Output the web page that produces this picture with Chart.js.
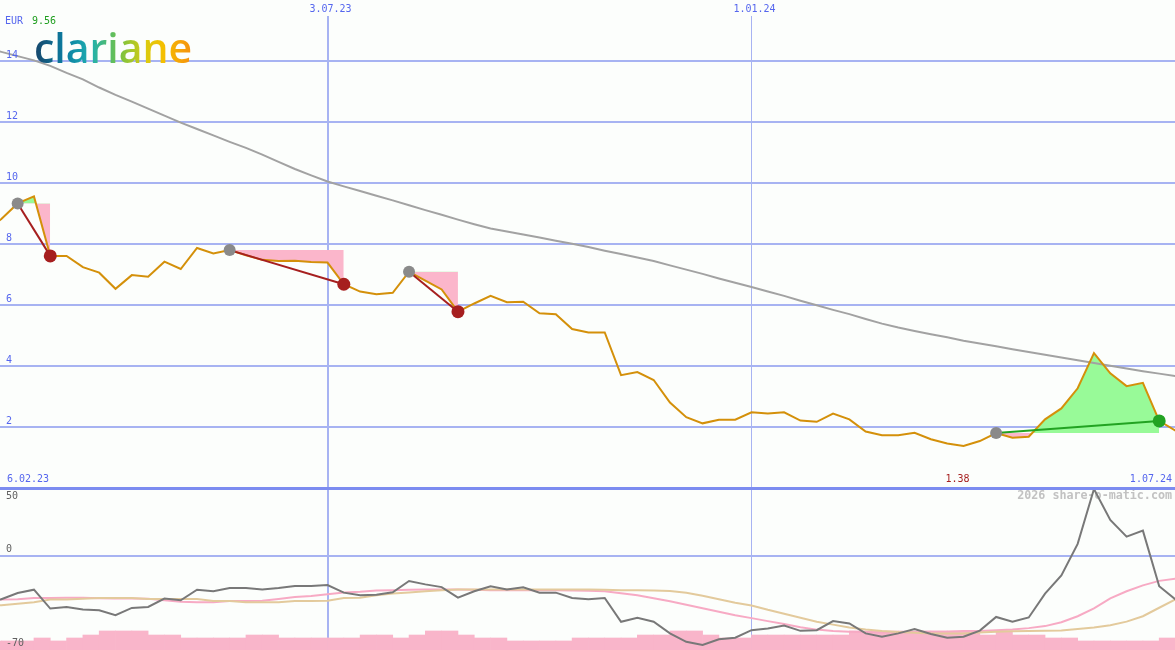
<!DOCTYPE html>
<html>
<head>
<meta charset="utf-8">
<script src="https://cdn.jsdelivr.net/npm/chart.js@4.4.1/dist/chart.umd.min.js"></script>
<style>
html,body{margin:0;padding:0;background:#fcfefc;}
#wrap{position:relative;width:1175px;height:650px;overflow:hidden;background:#fcfefc;}
#topbox{position:absolute;left:0;top:0;width:1175px;height:490px;z-index:2;}
#botbox{position:absolute;left:0;top:488px;width:1175px;height:162px;z-index:1;}
#logo{position:absolute;left:34px;top:27px;z-index:3;font-family:"Open Sans",sans-serif;font-weight:600;font-size:41px;line-height:41px;letter-spacing:0px;
  background:linear-gradient(90deg,#17456a 0%,#0b7fa3 20%,#1fb0b0 36%,#74c244 54%,#d9cc10 70%,#f5bf00 82%,#f5900f 100%);
  -webkit-background-clip:text;background-clip:text;color:transparent;white-space:nowrap;}
</style>
</head>
<body>
<div id="wrap">
  <div id="topbox"><canvas id="topChart" width="1175" height="490"></canvas></div>
  <div id="botbox"><canvas id="botChart" width="1175" height="162"></canvas></div>
  <div id="logo">clariane</div>
</div>
<script>
// ---------- data ----------
const startLabel = '6.02.23';
const endLabel = '1.07.24';
const tickDays = [147, 329];            // days after 6.02.23
const tickLabels = ['3.07.23', '1.01.24'];
const yTicksTop = [0, 2, 4, 6, 8, 10, 12, 14];
const yTicksLow = [50, 0, -70];
const currency = 'EUR';
const weekStep = 7;                    // weekly closes, day offset = index * 7

const price = [8.40,8.82,9.33,9.56,7.61,7.61,7.24,7.06,6.53,6.98,
  6.93,7.42,7.18,7.87,7.69,7.80,7.63,7.48,7.44,7.45,
  7.41,7.39,6.68,6.44,6.35,6.40,7.09,6.80,6.51,5.78,
  6.05,6.30,6.09,6.11,5.73,5.70,5.21,5.10,5.10,3.70,
  3.80,3.54,2.80,2.32,2.12,2.24,2.24,2.48,2.44,2.48,
  2.21,2.17,2.44,2.25,1.85,1.73,1.73,1.81,1.60,1.46,
  1.38,1.54,1.80,1.65,1.68,2.25,2.61,3.27,4.42,3.76,
  3.34,3.45,2.20,1.88];

const movingAvg = [14.43,14.30,14.16,14.02,13.84,13.61,13.40,13.13,12.89,12.67,
  12.44,12.21,11.98,11.77,11.56,11.35,11.15,10.93,10.69,10.46,
  10.25,10.05,9.89,9.74,9.58,9.43,9.27,9.11,8.96,8.80,
  8.65,8.51,8.41,8.31,8.21,8.11,8.01,7.90,7.78,7.67,
  7.56,7.44,7.30,7.16,7.02,6.87,6.73,6.59,6.44,6.30,
  6.14,5.99,5.84,5.70,5.54,5.39,5.26,5.15,5.04,4.94,
  4.83,4.74,4.65,4.55,4.46,4.37,4.28,4.19,4.10,4.01,
  3.92,3.83,3.75,3.67];

const tradeStart = [2, 15, 26, 62];
const tradeEnd   = [4, 22, 29, 72];

const osc = [-35.0,-32.4,-27.8,-25.3,-39.3,-38.1,-40.0,-40.5,-44.2,-38.8,
  -38.1,-31.9,-33.2,-25.3,-26.5,-24.1,-24.1,-25.1,-24.1,-22.6,
  -22.6,-21.9,-27.5,-29.5,-29.0,-27.3,-18.9,-21.4,-23.4,-31.2,
  -26.5,-22.8,-25.1,-23.6,-27.5,-27.5,-31.5,-32.4,-31.5,-49.1,
  -46.2,-49.1,-57.7,-63.9,-66.3,-62.1,-60.9,-55.3,-54.0,-51.8,
  -55.8,-55.3,-48.6,-50.3,-57.7,-60.2,-57.7,-54.5,-58.2,-60.9,
  -60.2,-55.6,-45.5,-49.1,-45.9,-28.2,-14.7,8.6,49.2,26.3,
  14.0,18.4,-22.8,-32.6];

const oscPink = [-32.8,-32.6,-32.4,-31.5,-31.5,-31.3,-31.3,-31.7,-31.9,-31.9,
  -32.1,-33.2,-34.3,-34.6,-34.6,-33.7,-33.7,-33.5,-32.2,-30.8,
  -30.0,-28.7,-27.4,-26.9,-26.0,-25.8,-25.4,-25.1,-25.1,-25.1,
  -25.4,-25.8,-25.8,-25.8,-25.8,-25.8,-26.0,-26.2,-26.5,-28.0,
  -29.5,-31.7,-33.9,-36.5,-39.1,-41.6,-44.2,-46.4,-48.6,-50.8,
  -53.1,-54.9,-56.0,-56.4,-56.7,-57.0,-57.0,-56.7,-56.5,-56.4,
  -56.0,-56.0,-55.3,-54.9,-53.8,-52.3,-49.4,-45.0,-39.1,-31.7,
  -26.5,-22.1,-18.8,-17.2];

const oscTan = [-37.6,-36.8,-35.7,-34.6,-32.6,-32.6,-32.0,-31.5,-31.5,-31.5,
  -32.2,-32.2,-32.2,-32.2,-33.7,-33.7,-34.6,-34.6,-34.6,-33.7,
  -33.7,-33.5,-31.5,-31.3,-29.5,-28.2,-27.4,-26.5,-25.8,-25.2,
  -25.1,-25.1,-25.1,-25.1,-25.1,-25.1,-25.1,-25.1,-25.3,-25.8,
  -25.8,-26.0,-26.3,-27.6,-29.8,-32.4,-35.0,-37.0,-40.2,-43.1,
  -46.1,-49.0,-51.2,-53.4,-54.9,-56.0,-56.7,-57.3,-57.7,-57.7,
  -57.7,-57.1,-56.5,-56.2,-56.0,-55.8,-55.5,-54.5,-53.3,-51.6,
  -49.0,-45.0,-38.7,-32.4];

const volume = [-63.3,-63.3,-63.3,-61.1,-63.3,-61.1,-58.9,-55.9,-55.9,-55.9,
  -58.9,-58.9,-61.1,-61.1,-61.1,-61.1,-58.9,-58.9,-61.1,-61.1,
  -61.1,-61.1,-61.1,-58.9,-58.9,-61.1,-58.9,-55.9,-55.9,-58.9,
  -61.1,-61.1,-63.3,-63.3,-63.3,-63.3,-61.1,-61.1,-61.1,-61.1,
  -58.9,-58.9,-55.9,-55.9,-58.9,-61.1,-61.1,-58.9,-58.9,-58.9,
  -58.9,-58.9,-58.9,-55.9,-55.9,-55.9,-55.9,-55.9,-55.9,-55.9,
  -55.9,-58.9,-55.9,-58.9,-58.9,-61.1,-61.1,-63.3,-63.3,-63.3,
  -63.3,-63.3,-61.1];

// ---------- styling ----------
const X_MIN = 6.42, X_MAX = 510.78;
const Y_TOP_MAX = 472 / 30.5;
const GRID = '#a7b3f2';
const AXIS = '#7c8cf0';
const BLUE_TXT = '#5566ee';
const MONO = '"DejaVu Sans Mono", monospace';
const PINK_FILL = '#fbb6cb';
const GREEN_FILL = '#98fa98';
const RED = '#a61f1f';
const GREEN = '#22a322';
const GRAY_DOT = '#8a8a8a';

const dayOf = i => i * weekStep;
const pts = arr => arr.map((v, i) => ({x: dayOf(i), y: v}));

const xScale = () => ({
  type: 'linear', min: X_MIN, max: X_MAX, offset: false,
  afterBuildTicks: s => { s.ticks = tickDays.map(v => ({value: v})); },
  ticks: {display: false}, border: {display: false},
  grid: {drawTicks: false, offset: false, color: GRID,
         lineWidth: c => (c.tick && c.tick.value === tickDays[0]) ? 2 : 1}
});

// ---------- top chart ----------
const topSets = [];
tradeStart.forEach((s, k) => {
  const e = tradeEnd[k];
  const lvl = price[s];
  const win = price[e] > lvl;
  topSets.push({
    data: price.slice(s, e + 1).map((v, j) => ({x: dayOf(s + j), y: v})),
    borderColor: 'rgba(0,0,0,0)', borderWidth: 0, pointRadius: 0,
    fill: {target: {value: lvl}, above: GREEN_FILL, below: PINK_FILL}, order: 10
  });
  topSets.push({
    data: [{x: dayOf(s), y: lvl}, {x: dayOf(e), y: price[e]}],
    borderColor: win ? GREEN : RED, borderWidth: 2,
    pointRadius: [6, 6.5], pointBorderWidth: 0,
    pointBackgroundColor: [GRAY_DOT, win ? GREEN : RED], order: 1
  });
});
topSets.push({data: pts(movingAvg), borderColor: '#a2a2a2', borderWidth: 2, pointRadius: 0, order: 6});
topSets.push({data: pts(price), borderColor: '#d4900a', borderWidth: 2, pointRadius: 0, order: 5});

const topText = {
  id: 'topText',
  afterDraw(chart) {
    const {ctx, scales: {x, y}} = chart;
    ctx.save();
    ctx.font = '10px ' + MONO;
    ctx.textBaseline = 'middle';
    ctx.fillStyle = BLUE_TXT;
    ctx.textAlign = 'left';
    yTicksTop.forEach(v => { if (v > 0) ctx.fillText(String(v), 6, y.getPixelForValue(v) - 6); });
    ctx.textAlign = 'center';
    tickDays.forEach((d, k) => ctx.fillText(tickLabels[k], x.getPixelForValue(d) + 3, 9));
    ctx.textAlign = 'left';
    ctx.fillText(startLabel, 7, 479);
    ctx.fillText(currency, 5, 21);
    ctx.textAlign = 'right';
    ctx.fillText(endLabel, 1172, 479);
    const maxV = Math.max(...price), minV = Math.min(...price);
    ctx.textAlign = 'left';
    ctx.fillStyle = '#1e9e1e';
    ctx.fillText(maxV.toFixed(2), 32, 21);
    ctx.fillStyle = RED;
    ctx.textAlign = 'center';
    ctx.fillText(minV.toFixed(2), x.getPixelForValue(dayOf(price.indexOf(minV))) - 6, 479);
    ctx.restore();
  }
};

new Chart(document.getElementById('topChart'), {
  type: 'line',
  data: {datasets: topSets},
  options: {
    responsive: false, animation: false, devicePixelRatio: 1,
    layout: {autoPadding: false, padding: {top: 16, bottom: 2, left: 0, right: 0}},
    plugins: {legend: {display: false}, tooltip: {enabled: false}},
    elements: {line: {tension: 0}},
    scales: {
      x: xScale(),
      y: {
        min: 0, max: Y_TOP_MAX,
        afterBuildTicks: s => { s.ticks = yTicksTop.map(v => ({value: v})); },
        ticks: {display: false}, border: {display: false},
        grid: {drawTicks: false, color: c => c.tick.value === 0 ? AXIS : GRID,
               lineWidth: c => c.tick.value === 0 ? 3 : 2}
      }
    }
  },
  plugins: [topText]
});

// ---------- lower chart ----------
const lowText = {
  id: 'lowText',
  beforeDatasetsDraw(chart) {
    const {ctx} = chart;
    ctx.save();
    ctx.font = 'bold 11.7px ' + MONO;
    ctx.fillStyle = '#c2c2c2';
    ctx.textAlign = 'right';
    ctx.textBaseline = 'middle';
    ctx.fillText('2026 share-o-matic.com', 1172, 8);
    ctx.restore();
  },
  afterDraw(chart) {
    const {ctx, scales: {y}} = chart;
    ctx.save();
    ctx.font = '10px ' + MONO;
    ctx.fillStyle = '#606060';
    ctx.textAlign = 'left';
    ctx.textBaseline = 'middle';
    yTicksLow.forEach((v, k) => {
      const p = y.getPixelForValue(v);
      const dy = k === 0 ? 8 : (k === yTicksLow.length - 1 ? -7 : -6);
      ctx.fillText(String(v), 6, p + dy);
    });
    ctx.restore();
  }
};

new Chart(document.getElementById('botChart'), {
  type: 'bar',
  data: {datasets: [
    {type: 'line', data: pts(osc), borderColor: '#787878', borderWidth: 2, pointRadius: 0, order: 1},
    {type: 'line', data: pts(oscTan), borderColor: '#e3ca9c', borderWidth: 2, pointRadius: 0, order: 2},
    {type: 'line', data: pts(oscPink), borderColor: '#f7aac4', borderWidth: 2, pointRadius: 0, order: 3},
    {type: 'bar', data: volume.map((v, i) => ({x: dayOf(i) + weekStep / 2, y: [yTicksLow[2], v]})),
     backgroundColor: '#f9b5ca', borderWidth: 0, barPercentage: 1, categoryPercentage: 1, order: 10}
  ]},
  options: {
    responsive: false, animation: false, devicePixelRatio: 1,
    layout: {autoPadding: false, padding: 0},
    plugins: {legend: {display: false}, tooltip: {enabled: false}},
    elements: {line: {tension: 0}},
    scales: {
      x: xScale(),
      y: {
        min: yTicksLow[2], max: yTicksLow[0],
        afterBuildTicks: s => { s.ticks = [{value: 0}]; },
        ticks: {display: false}, border: {display: false},
        grid: {drawTicks: false, color: GRID, lineWidth: 2}
      }
    }
  },
  plugins: [lowText]
});
</script>
</body>
</html>
